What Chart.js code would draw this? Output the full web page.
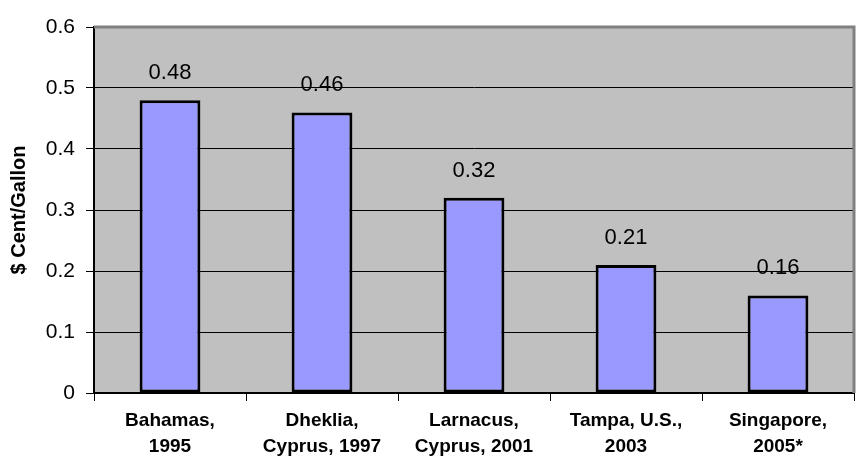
<!DOCTYPE html>
<html>
<head>
<meta charset="utf-8">
<script src="https://cdn.jsdelivr.net/npm/chart.js@4.4.0/dist/chart.umd.min.js"></script>
<style>
  html, body { margin: 0; padding: 0; background: #fff; }
  #wrap { width: 862px; height: 475px; }
</style>
</head>
<body>
<div id="wrap"><canvas id="c" width="862" height="475"></canvas></div>
<script>
// chart data
const sites = [['Bahamas,', '1995'], ['Dheklia,', 'Cyprus, 1997'], ['Larnacus,', 'Cyprus, 2001'], ['Tampa, U.S.,', '2003'], ['Singapore,', '2005*']];
const costs = [0.48, 0.46, 0.32, 0.21, 0.16];
const yTicks = [0, 0.1, 0.2, 0.3, 0.4, 0.5, 0.6];

// gray plot background + 3D-ish gray frame on top/right
const plotBg = {
    id: 'plotBg',
    beforeDraw(chart) {
        const a = chart.chartArea, c = chart.ctx;
        c.save();
        c.fillStyle = '#C0C0C0';
        c.fillRect(a.left, a.top, a.right - a.left, a.bottom - a.top);
        c.restore();
    },
    afterDraw(chart) {
        const a = chart.chartArea, c = chart.ctx;
        c.save();
        c.strokeStyle = '#808080';
        c.lineWidth = 3;
        c.beginPath();
        c.moveTo(a.left, a.top);
        c.lineTo(a.right, a.top);
        c.lineTo(a.right, a.bottom);
        c.stroke();
        c.restore();
    }
};

// value labels above each bar
const valueLabels = {
    id: 'valueLabels',
    afterDatasetsDraw(chart) {
        const c = chart.ctx;
        const meta = chart.getDatasetMeta(0);
        c.save();
        c.fillStyle = '#000';
        c.font = '22px Arial, "Liberation Sans", sans-serif';
        c.textAlign = 'center';
        c.textBaseline = 'middle';
        meta.data.forEach((bar, i) => {
            c.fillText(costs[i].toFixed(2), bar.x, bar.y - 27);
        });
        c.restore();
    }
};

new Chart(document.getElementById('c'), {
    type: 'bar',
    data: {
        labels: sites,
        datasets: [{
            data: costs,
            backgroundColor: '#9999FF',
            borderColor: '#000',
            borderWidth: 3,
            borderSkipped: false,
            categoryPercentage: 1,
            barPercentage: 0.4
        }]
    },
    options: {
        responsive: false,
        animation: false,
        layout: { padding: { top: 27, right: 8, left: 0, bottom: 0 } },
        plugins: { legend: { display: false }, tooltip: { enabled: false } },
        scales: {
            x: {
                offset: true,
                grid: { offset: true, drawOnChartArea: false, color: '#000', tickLength: 8 },
                border: { color: '#000', width: 2 },
                ticks: {
                    color: '#000',
                    padding: 7,
                    maxRotation: 0,
                    font: { family: 'Arial, "Liberation Sans", sans-serif', size: 19, weight: 'bold', lineHeight: 1.35 }
                },
                afterFit(s) { s.height = 82; }
            },
            y: {
                min: 0,
                max: 0.6,
                afterBuildTicks(s) { s.ticks = yTicks.map(v => ({ value: v })); },
                grid: {
                    color: ctx => (ctx.tick && ctx.tick.value === 0.6 ? '#808080' : '#000'),
                    tickColor: '#000',
                    tickLength: 8
                },
                border: { color: '#000', width: 2 },
                ticks: {
                    color: '#000',
                    padding: 11,
                    font: { family: 'Arial, "Liberation Sans", sans-serif', size: 21 },
                    callback: v => String(v)
                },
                title: {
                    display: true,
                    text: '$ Cent/Gallon',
                    color: '#000',
                    padding: { top: 7, bottom: 0 },
                    font: { family: 'Arial, "Liberation Sans", sans-serif', size: 20, weight: 'bold' }
                },
                afterFit(s) { s.width = 94; }
            }
        }
    },
    plugins: [plotBg, valueLabels]
});
</script>
</body>
</html>
